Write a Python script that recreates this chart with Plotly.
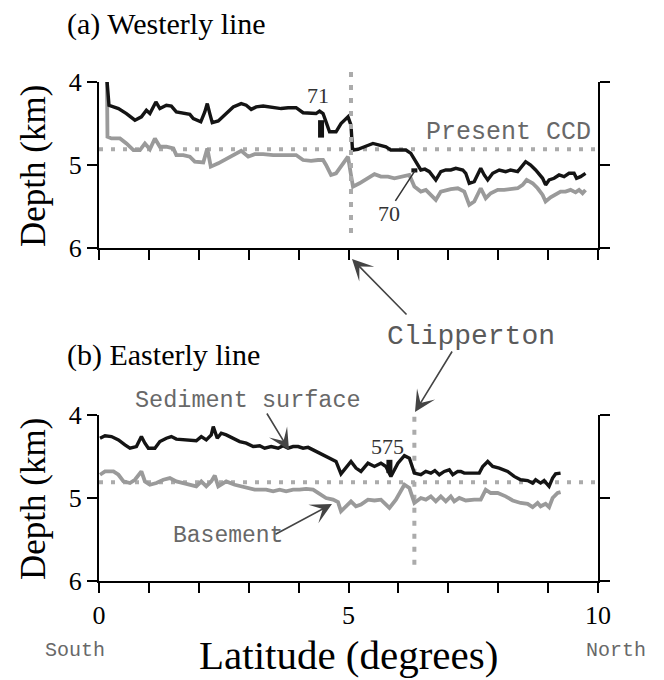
import plotly.graph_objects as go

# ---------------- data ----------------
# (a) Westerly line
west_sed_lat = [0.16, 0.17, 0.20, 0.39, 0.55, 0.72, 0.85, 0.95, 1.02, 1.14, 1.22, 1.35, 1.45, 1.55, 1.69, 1.82,
                1.89, 2.04, 2.12, 2.17, 2.22, 2.27, 2.39, 2.52, 2.69, 2.85, 2.95, 3.05, 3.15, 3.29, 3.49, 3.65,
                3.79, 3.95, 4.09, 4.22, 4.35, 4.42, 4.49, 4.55, 4.62, 4.75, 4.85, 4.99, 5.05, 5.08, 5.19, 5.32,
                5.49, 5.62, 5.75, 5.85, 5.99, 6.15, 6.25, 6.35, 6.45, 6.53, 6.62, 6.75, 6.85, 6.95, 7.05, 7.15,
                7.29, 7.35, 7.42, 7.52, 7.65, 7.72, 7.79, 7.89, 8.02, 8.15, 8.25, 8.39, 8.49, 8.55, 8.65, 8.75,
                8.89, 8.95, 9.02, 9.12, 9.22, 9.32, 9.42, 9.52, 9.57, 9.65, 9.75]
west_sed_depth = [3.98, 4.10, 4.28, 4.32, 4.38, 4.46, 4.42, 4.34, 4.38, 4.24, 4.32, 4.28, 4.29, 4.36, 4.38, 4.39,
                  4.44, 4.48, 4.36, 4.26, 4.38, 4.49, 4.47, 4.40, 4.30, 4.26, 4.28, 4.33, 4.30, 4.29, 4.31, 4.32,
                  4.31, 4.31, 4.37, 4.38, 4.38, 4.35, 4.38, 4.48, 4.60, 4.60, 4.50, 4.42, 4.52, 4.82, 4.81, 4.78,
                  4.74, 4.76, 4.78, 4.82, 4.82, 4.82, 4.86, 4.96, 5.06, 5.05, 5.08, 5.18, 5.08, 5.06, 5.06, 5.04,
                  5.06, 5.10, 5.22, 5.20, 5.04, 5.12, 5.18, 5.10, 5.06, 5.08, 5.06, 5.08, 5.00, 4.96, 5.00, 5.06,
                  5.16, 5.24, 5.18, 5.16, 5.12, 5.14, 5.10, 5.10, 5.16, 5.14, 5.10]
west_base_lat = [0.16, 0.17, 0.25, 0.42, 0.55, 0.69, 0.82, 0.92, 1.02, 1.12, 1.22, 1.35, 1.49, 1.55, 1.69, 1.82,
                 1.92, 2.09, 2.17, 2.24, 2.39, 2.52, 2.69, 2.85, 2.99, 3.12, 3.29, 3.49, 3.75, 3.95, 4.09, 4.25,
                 4.39, 4.49, 4.55, 4.65, 4.75, 4.87, 4.99, 5.05, 5.09, 5.22, 5.39, 5.52, 5.65, 5.79, 5.92, 6.12,
                 6.22, 6.32, 6.45, 6.55, 6.65, 6.75, 6.85, 6.95, 7.05, 7.19, 7.32, 7.42, 7.52, 7.65, 7.75, 7.85,
                 7.99, 8.12, 8.25, 8.39, 8.49, 8.57, 8.69, 8.79, 8.89, 8.95, 9.05, 9.15, 9.25, 9.35, 9.45, 9.55,
                 9.62, 9.69, 9.75]
west_base_depth = [3.98, 4.66, 4.68, 4.68, 4.74, 4.82, 4.82, 4.74, 4.81, 4.68, 4.78, 4.78, 4.80, 4.88, 4.88, 4.90,
                   4.96, 4.97, 4.80, 5.02, 4.98, 4.94, 4.88, 4.83, 4.90, 4.87, 4.87, 4.88, 4.88, 4.88, 4.94, 4.95,
                   4.94, 4.94, 5.00, 5.12, 5.10, 5.00, 4.90, 5.12, 5.26, 5.22, 5.15, 5.11, 5.14, 5.14, 5.16, 5.14,
                   5.12, 5.26, 5.32, 5.30, 5.36, 5.42, 5.32, 5.30, 5.29, 5.28, 5.32, 5.48, 5.44, 5.28, 5.40, 5.34,
                   5.30, 5.30, 5.29, 5.28, 5.24, 5.18, 5.22, 5.28, 5.36, 5.44, 5.39, 5.36, 5.32, 5.32, 5.30, 5.33,
                   5.30, 5.34, 5.30]

# (b) Easterly line
east_sed_lat = [0.02, 0.12, 0.25, 0.39, 0.52, 0.62, 0.75, 0.85, 0.92, 0.99, 1.12, 1.22, 1.35, 1.45, 1.55, 1.69,
                1.82, 1.95, 2.05, 2.15, 2.25, 2.29, 2.37, 2.45, 2.55, 2.69, 2.82, 2.95, 3.09, 3.22, 3.32, 3.45,
                3.59, 3.69, 3.79, 3.89, 3.99, 4.09, 4.19, 4.29, 4.42, 4.55, 4.65, 4.75, 4.85, 4.95, 5.05, 5.15,
                5.25, 5.39, 5.52, 5.65, 5.75, 5.85, 5.99, 6.12, 6.22, 6.32, 6.45, 6.55, 6.65, 6.73, 6.82, 6.92,
                7.02, 7.09, 7.19, 7.25, 7.32, 7.45, 7.62, 7.69, 7.79, 7.89, 8.02, 8.19, 8.32, 8.45, 8.59, 8.69,
                8.75, 8.85, 8.92, 9.02, 9.09, 9.15, 9.25]
east_sed_depth = [4.28, 4.25, 4.26, 4.30, 4.36, 4.40, 4.38, 4.26, 4.34, 4.40, 4.40, 4.32, 4.28, 4.26, 4.29, 4.30,
                  4.31, 4.31, 4.26, 4.30, 4.24, 4.14, 4.28, 4.22, 4.24, 4.28, 4.32, 4.34, 4.38, 4.37, 4.40, 4.38,
                  4.40, 4.37, 4.40, 4.38, 4.38, 4.40, 4.39, 4.42, 4.46, 4.50, 4.54, 4.56, 4.71, 4.64, 4.56, 4.64,
                  4.68, 4.58, 4.62, 4.58, 4.62, 4.74, 4.58, 4.49, 4.52, 4.70, 4.72, 4.68, 4.70, 4.67, 4.72, 4.68,
                  4.66, 4.72, 4.68, 4.68, 4.70, 4.70, 4.70, 4.62, 4.56, 4.62, 4.64, 4.68, 4.74, 4.78, 4.79, 4.82,
                  4.78, 4.82, 4.79, 4.86, 4.76, 4.71, 4.70]
east_base_lat = [0.02, 0.12, 0.29, 0.39, 0.49, 0.62, 0.72, 0.85, 0.92, 1.02, 1.15, 1.29, 1.42, 1.55, 1.69, 1.82,
                 1.95, 2.05, 2.15, 2.25, 2.32, 2.39, 2.49, 2.55, 2.72, 2.85, 2.99, 3.12, 3.25, 3.35, 3.49, 3.62,
                 3.75, 3.89, 4.02, 4.15, 4.29, 4.42, 4.55, 4.69, 4.79, 4.85, 4.95, 5.05, 5.15, 5.25, 5.39, 5.52,
                 5.65, 5.82, 5.95, 6.12, 6.22, 6.32, 6.45, 6.55, 6.65, 6.75, 6.85, 6.95, 7.05, 7.12, 7.22, 7.35,
                 7.52, 7.65, 7.75, 7.85, 7.99, 8.15, 8.29, 8.45, 8.59, 8.69, 8.79, 8.85, 8.95, 9.02, 9.09, 9.19,
                 9.25]
east_base_depth = [4.72, 4.68, 4.68, 4.72, 4.80, 4.82, 4.78, 4.68, 4.80, 4.84, 4.82, 4.78, 4.76, 4.80, 4.82, 4.84,
                   4.86, 4.80, 4.86, 4.80, 4.73, 4.86, 4.82, 4.80, 4.84, 4.86, 4.88, 4.90, 4.90, 4.90, 4.92, 4.90,
                   4.92, 4.90, 4.90, 4.89, 4.90, 4.95, 5.00, 5.02, 5.05, 5.16, 5.10, 5.04, 5.10, 5.08, 5.02, 5.03,
                   5.02, 5.12, 5.02, 4.84, 4.88, 5.06, 5.00, 5.02, 4.98, 5.04, 4.98, 5.04, 4.98, 5.04, 5.00, 5.03,
                   5.02, 5.02, 4.90, 4.94, 4.94, 4.98, 5.03, 5.06, 5.07, 5.11, 5.06, 5.10, 5.07, 5.11, 5.00, 4.94,
                   4.93]

# reference values
ccd_depth = 4.81                      # present CCD (km)
clipperton_lat = [5.05, 6.32]         # Clipperton crossing: westerly, easterly line
lat_ticks = list(range(0, 11))
lat_tick_text = ["0", "", "", "", "", "5", "", "", "", "", "10"]
depth_ticks = [4, 5, 6]

# drill sites: label, line, latitude, top depth, bottom depth
site_labels = ["71", "70", "575"]
site_panel = ["a", "a", "b"]
site_lat = [4.45, 6.32, 5.82]
site_top = [4.46, 5.04, 4.54]
site_bot = [4.67, 5.09, 4.70]

# ---------------- layout geometry ----------------
W, H = 664, 680
OFF = 8  # page body margin
def px_x(p): return (p - OFF) / W
def px_y(p): return 1 - (p - OFF) / H

x_dom = [px_x(99), px_x(598)]
top_dom = [px_y(248), px_y(82)]
bot_dom = [px_y(581), px_y(415)]
ext_dom = [px_y(248), px_y(72)]
ext_range = [6, 6 - (248 - 72) / 83.0]

SERIF = "Liberation Serif, Times New Roman, serif"
MONO = "Liberation Mono, Courier New, monospace"
BLACK = "#141414"
GREY = "#9a9a9a"
DOTC = "#ababab"
TXTG = "#686868"

fig = go.Figure()

def add_panel(xa, ya, sed_lat, sed_dep, base_lat, base_dep):
    fig.add_trace(go.Scatter(x=[lat_ticks[0], lat_ticks[-1]], y=[ccd_depth, ccd_depth], mode="lines",
                             line=dict(color=DOTC, width=4, dash="4px,8px"), xaxis=xa, yaxis=ya,
                             hoverinfo="skip", showlegend=False))
    fig.add_trace(go.Scatter(x=base_lat, y=base_dep, mode="lines", line=dict(color=GREY, width=3.8),
                             xaxis=xa, yaxis=ya, showlegend=False, name="Basement"))
    fig.add_trace(go.Scatter(x=sed_lat, y=sed_dep, mode="lines", line=dict(color=BLACK, width=3.4),
                             xaxis=xa, yaxis=ya, showlegend=False, name="Sediment surface"))

# Clipperton vertical lines (drawn first so data lines lie on top)
fig.add_trace(go.Scatter(x=[clipperton_lat[0]] * 2, y=[ext_range[1], 5.90], mode="lines",
                         line=dict(color=DOTC, width=4, dash="5px,8px"), xaxis="x3", yaxis="y3",
                         hoverinfo="skip", showlegend=False))
fig.add_trace(go.Scatter(x=[clipperton_lat[1]] * 2, y=[4.02, 5.90], mode="lines",
                         line=dict(color=DOTC, width=4, dash="5px,8px"), xaxis="x2", yaxis="y2",
                         hoverinfo="skip", showlegend=False))

add_panel("x", "y", west_sed_lat, west_sed_depth, west_base_lat, west_base_depth)
add_panel("x2", "y2", east_sed_lat, east_sed_depth, east_base_lat, east_base_depth)

# drill-site bars
for lab, pan, la, t, b in zip(site_labels, site_panel, site_lat, site_top, site_bot):
    xa, ya = ("x", "y") if pan == "a" else ("x2", "y2")
    fig.add_trace(go.Scatter(x=[la, la], y=[t, b], mode="lines", line=dict(color=BLACK, width=6),
                             xaxis=xa, yaxis=ya, showlegend=False, name="Site " + lab))

xcommon = dict(range=[0, 10], domain=x_dom, showgrid=False, zeroline=False, showline=True,
               linecolor="black", linewidth=2, ticks="outside", ticklen=10, tickwidth=2,
               tickcolor="black", tickvals=lat_ticks, fixedrange=True, automargin=False)
ycommon = dict(range=[6, 4], showgrid=False, zeroline=False, showline=True, linecolor="black",
               linewidth=2, ticks="outside", ticklen=10, tickwidth=2, tickcolor="black",
               mirror="ticks", tickvals=depth_ticks, ticktext=[str(v) for v in depth_ticks],
               tickfont=dict(family=SERIF, size=26, color="black"), fixedrange=True, automargin=False)

annotations = []
def ann(text, x, y, size, family=SERIF, color="black", **kw):
    d = dict(text=text, x=x, y=y, xref="paper", yref="paper", showarrow=False,
             font=dict(family=family, size=size, color=color), xanchor="center", yanchor="middle")
    d.update(kw)
    annotations.append(d)

ann("(a) Westerly line", px_x(65), px_y(24), 30, xanchor="left")
ann("(b) Easterly line", px_x(65), px_y(355), 30, xanchor="left")
ann("Depth (km)", px_x(33), px_y(166), 35, textangle=-90)
ann("Depth (km)", px_x(33), px_y(499), 35, textangle=-90)
ann("Latitude (degrees)", px_x(348), px_y(655), 41)
ann("South", px_x(75), px_y(650), 20, MONO, TXTG)
ann("North", px_x(616), px_y(650), 20, MONO, TXTG)
ann("Clipperton", px_x(471), px_y(336), 28, MONO, "#5a5a5a")
ann("Sediment surface", px_x(248), px_y(401), 23.5, MONO, TXTG)
ann("Basement", px_x(228), px_y(536), 23, MONO, TXTG)
ann("Present CCD", 8.2, 4.61, 25, MONO, TXTG, xref="x", yref="y")
ann("71", 4.38, 4.16, 22, SERIF, "#333333", xref="x", yref="y")
ann("70", 5.82, 5.58, 22, SERIF, "#333333", xref="x", yref="y")
ann("575", 5.79, 4.38, 22, SERIF, "#333333", xref="x2", yref="y2")

# leader for site 70
annotations.append(dict(text="", x=6.33, y=5.07, xref="x", yref="y", ax=5.92, ay=5.45,
                        axref="x", ayref="y", showarrow=True, arrowhead=0, arrowwidth=1.5,
                        arrowcolor="#333333"))

# arrows (tip in paper coords, tail offset in px)
def arrow(tx, ty, dx, dy):
    annotations.append(dict(text="", x=px_x(tx), y=px_y(ty), xref="paper", yref="paper",
                            ax=dx, ay=dy, showarrow=True, arrowhead=3, arrowsize=2.2,
                            arrowwidth=1.6, arrowcolor="#444444", standoff=0))

arrow(352, 259, 56, 57)
arrow(415, 412, 38, -62)
arrow(289, 450, -23, -38)
arrow(332, 504, -58, 31)

fig.update_layout(
    width=W, height=H, autosize=False,
    margin=dict(l=0, r=0, t=0, b=0, pad=0, autoexpand=False),
    paper_bgcolor="white", plot_bgcolor="rgba(0,0,0,0)", showlegend=False,
    xaxis=dict(xcommon, anchor="y", showticklabels=False),
    yaxis=dict(ycommon, domain=top_dom, anchor="x"),
    xaxis2=dict(xcommon, anchor="y2", ticktext=lat_tick_text,
                tickfont=dict(family=SERIF, size=26, color="black")),
    yaxis2=dict(ycommon, domain=bot_dom, anchor="x2"),
    xaxis3=dict(range=[0, 10], domain=x_dom, anchor="y3", visible=False, fixedrange=True,
                automargin=False),
    yaxis3=dict(range=ext_range, domain=ext_dom, anchor="x3", visible=False, fixedrange=True,
                automargin=False),
    annotations=annotations,
)

fig.write_html("out.html")
